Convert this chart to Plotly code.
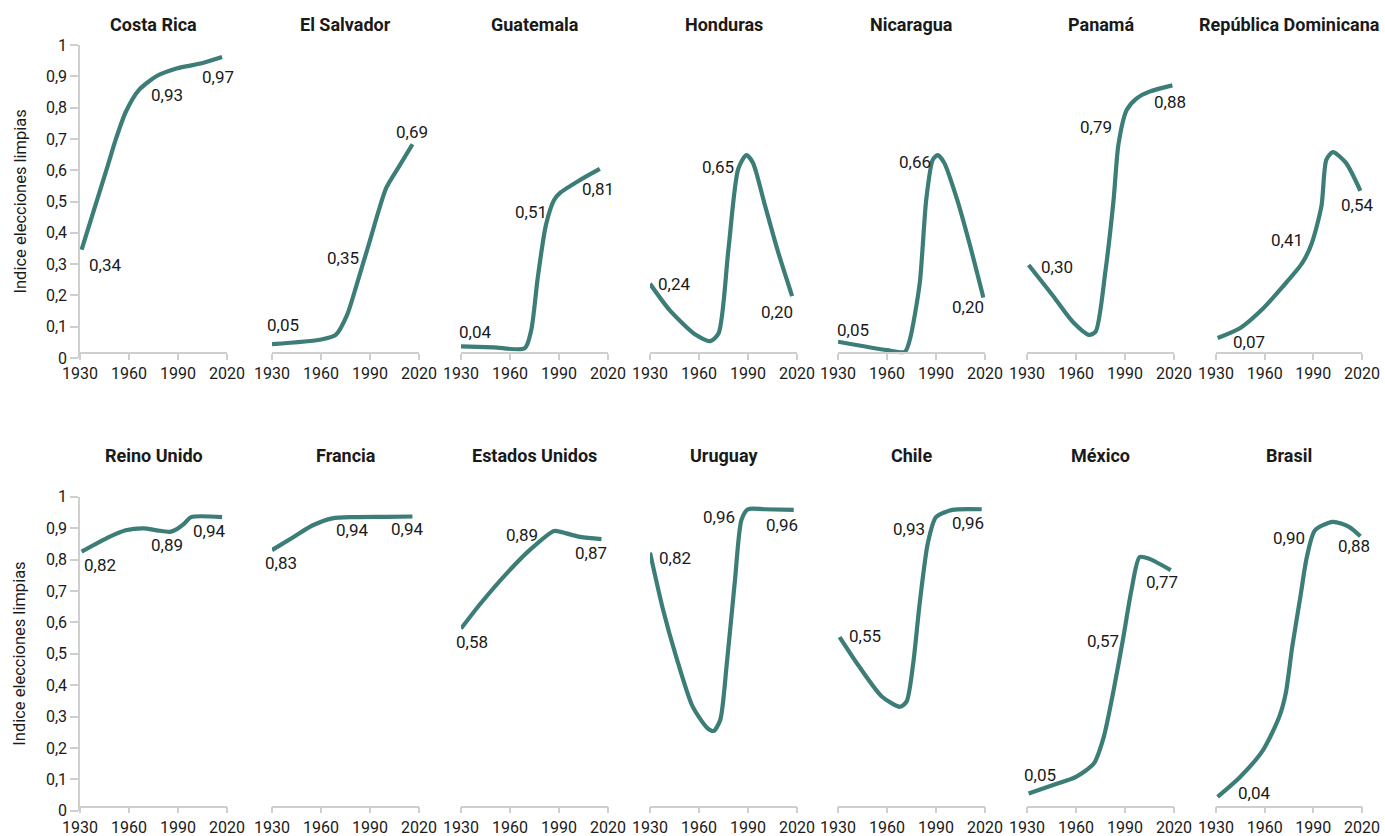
import plotly.graph_objects as go
from plotly.subplots import make_subplots

# ---------------- DATA ----------------
COUNTRIES_ROW1 = ["Costa Rica", "El Salvador", "Guatemala", "Honduras", "Nicaragua", "Panamá", "República Dominicana"]
COUNTRIES_ROW2 = ["Reino Unido", "Francia", "Estados Unidos", "Uruguay", "Chile", "México", "Brasil"]

cr_years = [1931, 1947, 1952, 1958, 1966, 1977, 1989, 2003, 2017]
cr_vals = [0.346, 0.615, 0.70, 0.786, 0.856, 0.901, 0.925, 0.94, 0.962]

sv_years = [1930, 1960, 1969, 1976, 1982, 1990, 1995, 2000, 2008, 2016]
sv_vals = [0.044, 0.059, 0.074, 0.138, 0.237, 0.376, 0.465, 0.544, 0.614, 0.683]

gt_years = [1930, 1950, 1969, 1973, 1977, 1982, 1987, 1991, 2003, 2015]
gt_vals = [0.037, 0.034, 0.031, 0.089, 0.257, 0.425, 0.505, 0.529, 0.569, 0.604]

hn_years = [1930, 1942, 1958, 1967, 1972, 1978, 1984, 1989, 1993, 2000, 2008, 2017]
hn_vals = [0.237, 0.153, 0.074, 0.054, 0.079, 0.346, 0.604, 0.648, 0.624, 0.495, 0.346, 0.198]

ni_years = [1930, 1960, 1971, 1974, 1980, 1984, 1988, 1991, 1995, 2003, 2011, 2019]
ni_vals = [0.052, 0.025, 0.02, 0.059, 0.237, 0.505, 0.633, 0.648, 0.624, 0.505, 0.356, 0.193]

pa_years = [1931, 1946, 1958, 1968, 1972, 1978, 1983, 1986, 1991, 1997, 2005, 2019]
pa_vals = [0.297, 0.198, 0.116, 0.074, 0.084, 0.277, 0.505, 0.683, 0.792, 0.829, 0.851, 0.871]

do_years = [1931, 1945, 1959, 1971, 1983, 1989, 1995, 1998, 2002, 2010, 2019]
do_vals = [0.064, 0.096, 0.158, 0.227, 0.302, 0.366, 0.485, 0.633, 0.658, 0.624, 0.534]

uk_years = [1931, 1948, 1958, 1969, 1977, 1985, 1989, 1994, 1998, 2017]
uk_vals = [0.825, 0.872, 0.893, 0.899, 0.893, 0.888, 0.896, 0.915, 0.935, 0.935]

fr_years = [1930, 1943, 1955, 1967, 1980, 2000, 2016]
fr_vals = [0.83, 0.871, 0.909, 0.931, 0.935, 0.936, 0.937]

us_years = [1930, 1942, 1958, 1972, 1987, 1991, 2003, 2016]
us_vals = [0.58, 0.66, 0.756, 0.83, 0.891, 0.888, 0.872, 0.865]

uy_years = [1930, 1938, 1946, 1956, 1965, 1969, 1973, 1977, 1982, 1986, 1990, 2000, 2018]
uy_vals = [0.822, 0.64, 0.491, 0.333, 0.264, 0.254, 0.289, 0.467, 0.733, 0.926, 0.96, 0.96, 0.958]

cl_years = [1931, 1943, 1957, 1968, 1972, 1976, 1980, 1985, 1990, 2000, 2018]
cl_vals = [0.553, 0.459, 0.363, 0.331, 0.348, 0.467, 0.66, 0.852, 0.935, 0.958, 0.96]

mx_years = [1931, 1946, 1960, 1971, 1977, 1983, 1989, 1994, 1999, 2005, 2018]
mx_vals = [0.055, 0.082, 0.108, 0.151, 0.235, 0.383, 0.553, 0.704, 0.808, 0.802, 0.766]

br_years = [1931, 1945, 1959, 1969, 1973, 1977, 1982, 1986, 1991, 2002, 2012, 2019]
br_vals = [0.044, 0.108, 0.193, 0.299, 0.374, 0.522, 0.681, 0.808, 0.893, 0.92, 0.904, 0.874]

SERIES = [
    (cr_years, cr_vals), (sv_years, sv_vals), (gt_years, gt_vals), (hn_years, hn_vals),
    (ni_years, ni_vals), (pa_years, pa_vals), (do_years, do_vals),
    (uk_years, uk_vals), (fr_years, fr_vals), (us_years, us_vals), (uy_years, uy_vals),
    (cl_years, cl_vals), (mx_years, mx_vals), (br_years, br_vals),
]

# label values shown on each panel
LABEL_VALUES = [
    [0.34, 0.93, 0.97], [0.05, 0.35, 0.69], [0.04, 0.51, 0.81], [0.24, 0.65, 0.20],
    [0.05, 0.66, 0.20], [0.30, 0.79, 0.88], [0.07, 0.41, 0.54],
    [0.82, 0.89, 0.94], [0.83, 0.94, 0.94], [0.58, 0.89, 0.87], [0.82, 0.96, 0.96],
    [0.55, 0.93, 0.96], [0.05, 0.57, 0.77], [0.04, 0.90, 0.88],
]
# where each label sits (year, index value) in its panel
LABEL_POS = [
    [(1945.3, 0.297), (1983, 0.84), (2014.7, 0.897)],
    [(1936.9, 0.106), (1973.7, 0.319), (2015.9, 0.722)],
    [(1938.6, 0.084), (1972.9, 0.465), (2014, 0.539)],
    [(1944.7, 0.238), (1971.5, 0.611), (2007.5, 0.148)],
    [(1939.4, 0.09), (1977.2, 0.627), (2009.4, 0.162)],
    [(1948.2, 0.292), (1972.4, 0.738), (2017.4, 0.818)],
    [(1950.4, 0.052), (1973.9, 0.377), (2017, 0.489)],
    [(1942.2, 0.782), (1983, 0.846), (2009.2, 0.89)],
    [(1935.3, 0.79), (1979.2, 0.894), (2012.5, 0.897)],
    [(1936.5, 0.538), (1967.6, 0.877), (2009.5, 0.822)],
    [(1945.3, 0.805), (1972.2, 0.934), (2010.6, 0.91)],
    [(1946.5, 0.555), (1973.5, 0.897), (2009.4, 0.917)],
    [(1938, 0.113), (1976.4, 0.541), (2012.6, 0.729)],
    [(1953.5, 0.057), (1975, 0.867), (2014.8, 0.844)],
]

X_TICKS = [1930, 1960, 1990, 2020]
Y_TICKS = [0, 0.1, 0.2, 0.3, 0.4, 0.5, 0.6, 0.7, 0.8, 0.9, 1]
Y_TITLE = "Indice elecciones limpias"

# ---------------- STYLE / LAYOUT ----------------
W, H = 1385, 836
LINE_COLOR = "#3c7d77"
AXIS_COLOR = "#cfcfcf"
TEXT_COLOR = "#1a1a1a"
FONT = "Roboto, 'Open Sans', sans-serif"

COL_PX = [(80, 227), (272, 419), (461, 608), (650, 797), (838, 985), (1027, 1174), (1216, 1362)]
ROW_PX = [(45, 358), (496.7, 810.7)]   # pixel of value 1 and value 0
XLINE_PX = [353, 806.7]                 # pixel row of each x-axis line
TITLE_Y_PX = [25, 455]
YTITLE_X_PX = 20


def fmt(v):
    return f"{v:.2f}".replace(".", ",")


def ytick_text(v):
    if v == 0:
        return "0"
    if v == 1:
        return "1"
    return f"{v:.1f}".replace(".", ",")


fig = make_subplots(rows=2, cols=7)

countries = COUNTRIES_ROW1 + COUNTRIES_ROW2
for idx, (yrs, vals) in enumerate(SERIES):
    r = idx // 7 + 1
    c = idx % 7 + 1
    fig.add_trace(go.Scatter(x=yrs, y=vals, mode="lines",
                             line=dict(color=LINE_COLOR, width=4.2, shape="spline", smoothing=0.7),
                             hoverinfo="skip", showlegend=False), row=r, col=c)

annotations = []
for idx in range(14):
    r = idx // 7
    c = idx % 7
    n = idx + 1
    axn = "" if n == 1 else str(n)
    x0, x1 = COL_PX[c]
    ytop, ybot = ROW_PX[r]
    fig.layout[f"xaxis{axn}"].update(
        domain=[x0 / W, x1 / W], range=[1930, 2020], tickvals=X_TICKS,
        ticktext=[str(t) for t in X_TICKS], showgrid=False, zeroline=False,
        anchor="free", position=1 - XLINE_PX[r] / H,
        showline=True, linecolor=AXIS_COLOR, linewidth=1.5, ticks="outside",
        tickcolor=AXIS_COLOR, ticklen=6, tickwidth=1.5, automargin=False,
        tickfont=dict(size=16, color=TEXT_COLOR, family=FONT), fixedrange=True)
    first = (c == 0)
    fig.layout[f"yaxis{axn}"].update(
        domain=[1 - ybot / H, 1 - ytop / H], range=[0, 1], showgrid=False, zeroline=False,
        showline=first, linecolor=AXIS_COLOR, linewidth=1.5, automargin=False,
        ticks="outside" if first else "", tickcolor=AXIS_COLOR, ticklen=8, tickwidth=1.5,
        tickvals=Y_TICKS, ticktext=[ytick_text(v) for v in Y_TICKS],
        showticklabels=first, tickfont=dict(size=16, color=TEXT_COLOR, family=FONT),
        fixedrange=True)
    if first:
        annotations.append(dict(text=Y_TITLE, xref="paper", yref="paper",
                                x=YTITLE_X_PX / W, y=1 - (ytop + ybot) / 2 / H, textangle=-90,
                                xanchor="center", yanchor="middle", showarrow=False,
                                font=dict(size=16.5, color=TEXT_COLOR, family=FONT)))
    # panel title
    annotations.append(dict(text=f"<b>{countries[idx]}</b>", xref="paper", yref="paper",
                            x=(x0 + x1) / 2 / W, y=1 - TITLE_Y_PX[r] / H, xanchor="center",
                            yanchor="middle", showarrow=False,
                            font=dict(size=18, color=TEXT_COLOR, family=FONT)))
    # value labels
    for val, (lx, ly) in zip(LABEL_VALUES[idx], LABEL_POS[idx]):
        annotations.append(dict(text=fmt(val), xref=f"x{axn}", yref=f"y{axn}", x=lx, y=ly,
                                xanchor="center", yanchor="middle", showarrow=False,
                                font=dict(size=17, color=TEXT_COLOR, family=FONT)))

fig.update_layout(width=W, height=H, margin=dict(l=0, r=0, t=0, b=0, autoexpand=False),
                  paper_bgcolor="white", plot_bgcolor="white",
                  annotations=annotations, showlegend=False,
                  font=dict(family=FONT, color=TEXT_COLOR))

fig.write_html("out.html", config={"displayModeBar": False},
               post_script="document.body.style.margin='0';document.body.style.overflow='hidden';")
